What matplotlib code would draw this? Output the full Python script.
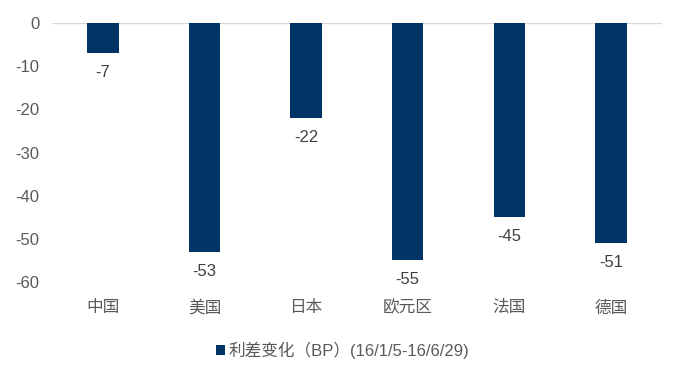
import numpy as np
import matplotlib
matplotlib.use('Agg')
import matplotlib.pyplot as plt

plt.rcParams['font.family'] = ['Liberation Sans', 'Noto Sans CJK SC', 'DejaVu Sans']

categories = ['中国', '美国', '日本', '欧元区', '法国', '德国']
values = [-7, -53, -22, -55, -45, -51]
series_name = '利差变化（BP）(16/1/5-16/6/29)'
yticks = [0, -10, -20, -30, -40, -50, -60]

bar_color = '#003366'
text_color = '#595959'

fig = plt.figure(figsize=(6.85, 3.78), dpi=100)
ax = fig.add_axes([0.076, 0.254, 0.890, 0.685])

x = np.arange(len(categories))
bars = ax.bar(x, values, width=0.31, color=bar_color, label=series_name, zorder=2)

ax.set_ylim(-60, 0)
ax.set_xlim(-0.5, len(categories) - 0.5)
ax.set_yticks(yticks)
ax.set_yticklabels([str(t) for t in yticks])
ax.set_xticks(x)
ax.set_xticklabels(categories)
ax.axhline(0, color='#d9d9d9', linewidth=1, zorder=1)

for s in ax.spines.values():
    s.set_visible(False)
ax.tick_params(axis='both', length=0, colors=text_color, labelsize=12)
ax.tick_params(axis='y', pad=9)
ax.tick_params(axis='x', pad=13)

for xi, v in zip(x, values):
    ax.annotate(str(v), xy=(xi, v), xytext=(0, -14), textcoords='offset points',
                ha='center', va='center', fontsize=12, color='#404040')

leg = fig.legend(loc='center', bbox_to_anchor=(0.5, 0.074), frameon=False,
                 handlelength=0.55, handleheight=0.55, handletextpad=0.2,
                 fontsize=12, labelcolor=text_color)

fig.savefig('out.png', dpi=100)
